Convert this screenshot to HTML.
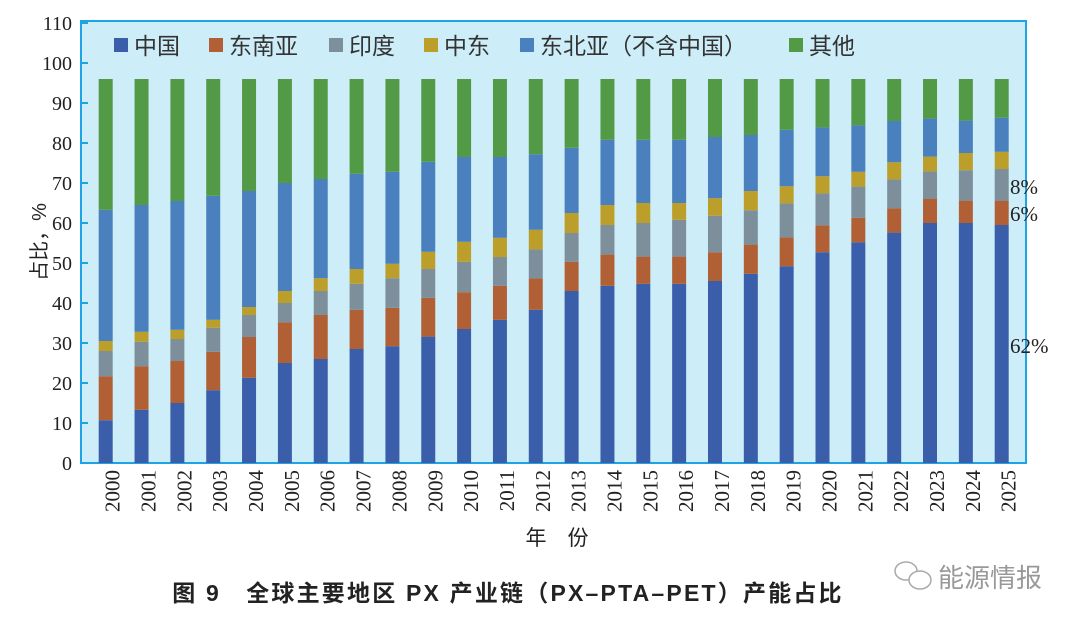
<!DOCTYPE html>
<html><head><meta charset="utf-8">
<style>
body{margin:0;background:#fff;}
svg{display:block;}
text{font-family:"Liberation Serif","Noto Serif CJK SC",serif;}
.cjk{font-family:"Liberation Sans","Noto Sans CJK SC",sans-serif;}
</style></head>
<body>
<svg id="chart" width="1080" height="625" viewBox="0 0 1080 625" xmlns="http://www.w3.org/2000/svg">
<rect x="81" y="21" width="945" height="442" fill="#cdeef9" stroke="#1ea3e6" stroke-width="2"/>
<g id="yaxis"></g>
<g id="bars"></g>
<g id="xaxis"></g>
<g id="legend"></g>
<text class="cjk" transform="translate(46,242) rotate(-90)" text-anchor="middle" font-size="20" fill="#222">占比，%</text>
<text class="cjk" x="557" y="545" text-anchor="middle" font-size="21" fill="#222">年　份</text>
<text x="1010" y="194" font-size="21" fill="#222">8%</text>
<text x="1010" y="221" font-size="21" fill="#222">6%</text>
<text x="1010" y="353" font-size="21" fill="#222">62%</text>
<text class="cjk" x="508" y="601" text-anchor="middle" font-size="23" font-weight="bold" letter-spacing="2.2" fill="#222">图 9　全球主要地区 PX 产业链（PX–PTA–PET）产能占比</text>
<g>
<ellipse cx="906" cy="571" rx="11" ry="9" fill="none" stroke="#aaa" stroke-width="1.5"/>
<ellipse cx="920" cy="580" rx="11" ry="9" fill="#fff" stroke="#aaa" stroke-width="1.5"/>
<text class="cjk" x="938" y="587" font-size="26" fill="#999">能源情报</text>
</g>
</svg>
<script>
const years=["2000","2001","2002","2003","2004","2005","2006","2007","2008","2009","2010","2011","2012","2013","2014","2015","2016","2017","2018","2019","2020","2021","2022","2023","2024","2025"];
const seriesNames=["中国","东南亚","印度","中东","东北亚（不含中国）","其他"];
const china=[10.7,13.3,15,18.2,21.3,25,26,28.5,29.2,31.6,33.5,35.8,38.3,43,44.3,44.8,44.8,45.5,47.3,49.2,52.7,55.2,57.6,60,60,59.5];
const seAsia=[11,10.9,10.5,9.6,10.2,10.2,11,9.8,9.6,9.7,9.2,8.5,7.9,7.3,7.8,6.8,6.8,7.2,7.3,7.2,6.7,6.1,6.1,6.1,5.6,6.1];
const india=[6.3,6.1,5.5,6,5.5,4.8,6,6.5,7.4,7.2,7.6,7.2,7.2,7.2,7.4,8.4,9.2,9.1,8.6,8.5,8,7.8,7.2,6.8,7.6,7.9];
const middleEast=[2.5,2.5,2.3,2,2,3,3.2,3.7,3.6,4.3,5,4.8,4.9,5,5,5,4.2,4.4,4.8,4.3,4.3,3.7,4.3,3.7,4.3,4.3];
const neAsia=[32.8,31.7,32.2,31,29,27,24.8,23.8,23,22.5,21.2,20.2,18.9,16.3,16.3,15.8,15.8,15.3,14,14.1,12.2,11.6,10.3,9.5,8.1,8.5];
const others=[32.7,31.5,30.5,29.2,28,26,25,23.7,23.2,20.7,19.5,19.5,18.8,17.2,15.2,15.2,15.2,14.5,14,12.7,12.1,11.6,10.5,9.9,10.4,9.7];
const yTicks=[0,10,20,30,40,50,60,70,80,90,100,110];

const NS="http://www.w3.org/2000/svg";
const colors=["#3b5eab","#b06034","#7d8f9a","#bc9e2b","#4a80bd","#539a46"];
const keys=["china","se-asia","india","middle-east","ne-asia","others"];
const series=[china,seAsia,india,middleEast,neAsia,others];
const y=v=>463-v*4;
const x0=105.7,step=35.84,bw=14;
const xc=i=>x0+i*step;
function mk(tag,attrs,parent){const e=document.createElementNS(NS,tag);for(const k in attrs)e.setAttribute(k,attrs[k]);parent.appendChild(e);return e;}

const ya=document.getElementById('yaxis');
yTicks.forEach(t=>{
  const l=mk('line',{x1:81,x2:88,y1:y(t),y2:y(t),stroke:'#1ea3e6','stroke-width':2},ya);
  
  
  const tx=mk('text',{x:72,y:y(t)+7,'text-anchor':'end','font-size':20,fill:'#222'},ya);
  tx.textContent=t;
  
  
});

const bg=document.getElementById('bars');
years.forEach((yr,i)=>{
  let cum=0;
  series.forEach((s,k)=>{
    const v=s[i];
    const r=mk('rect',{x:xc(i)-bw/2,y:y(cum+v),width:bw,height:v*4,fill:colors[k]},bg);
    
    
    cum+=v;
  });
});

const xa=document.getElementById('xaxis');
years.forEach((yr,i)=>{
  const tx=mk('text',{transform:`translate(${xc(i)+14},470) rotate(-90)`,'text-anchor':'end','font-size':21,fill:'#222'},xa);
  tx.textContent=yr;
  
  
});

const lg=document.getElementById('legend');
const lx=[114,209,329,424,520,789];
seriesNames.forEach((n,k)=>{
  const r=mk('rect',{x:lx[k],y:38,width:14,height:14,fill:colors[k]},lg);
  
  
  const tx=mk('text',{x:lx[k]+20,y:54,'font-size':23,fill:'#333','class':'cjk'},lg);
  tx.textContent=n;
  
  
});
</script>
</body></html>
